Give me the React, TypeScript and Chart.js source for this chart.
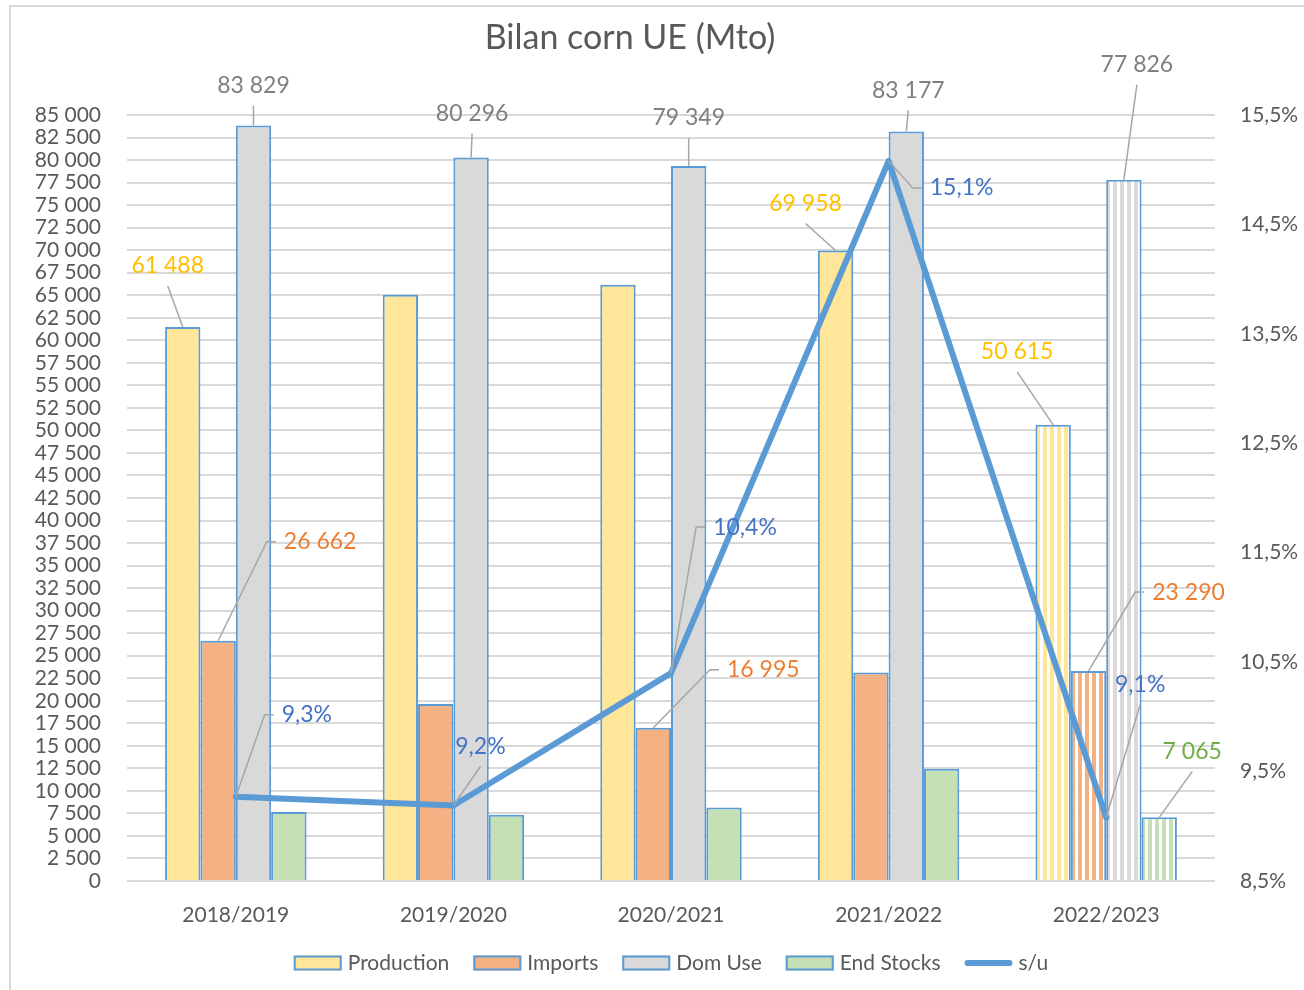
import React, { useEffect, useRef } from 'react';
import { Chart, registerables } from 'chart.js';

Chart.register(...registerables);

// ---------- data ----------
const TITLE = 'Bilan corn UE (Mto)';
const CATEGORIES = ['2018/2019', '2019/2020', '2020/2021', '2021/2022', '2022/2023'];
const PRODUCTION = [61488, 65050, 66150, 69958, 50615];
const IMPORTS = [26662, 19650, 16995, 23150, 23290];
const DOM_USE = [83829, 80296, 79349, 83177, 77826];
const END_STOCKS = [7650, 7350, 8150, 12450, 7065];
const STOCK_TO_USE = [9.27, 9.19, 10.4, 15.08, 9.08];
const FORECAST = [false, false, false, false, true];
const SERIES_NAMES = ['Production', 'Imports', 'Dom Use', 'End Stocks', 's/u'];
const LEFT_MIN = 0;
const LEFT_MAX = 85000;
const LEFT_STEP = 2500;
const RIGHT_TICKS = [8.5, 9.5, 10.5, 11.5, 12.5, 13.5, 14.5, 15.5];

// ---------- styles ----------
const FONT = 'Lato, "Open Sans", sans-serif';
const TEXT = '#595959';
const BAR_BORDER = '#5B9BD5';
const FILLS = ['#FFE699', '#F4B183', '#D9D9D9', '#C5E0B4'];
const LINE_COLOR = '#5B9BD5';
const LABEL_COLORS = ['#FFC000', '#ED7D31', '#7F7F7F', '#70AD47', '#4472C4'];

// label placement (offsets relative to each mark, in px) and leader style
const LABELS = [
  { ds: 0, i: 0, dx: -15, dy: -61, side: 'below' },
  { ds: 0, i: 3, dx: -30, dy: -47, side: 'below' },
  { ds: 0, i: 4, dx: -36, dy: -73, side: 'below' },
  { ds: 1, i: 0, dx: 102, dy: -99, side: 'left' },
  { ds: 1, i: 2, dx: 110, dy: -58, side: 'left' },
  { ds: 1, i: 4, dx: 100, dy: -79, side: 'left' },
  { ds: 2, i: 0, dx: 0, dy: -40, side: 'below' },
  { ds: 2, i: 1, dx: 1, dy: -44, side: 'below' },
  { ds: 2, i: 2, dx: 0, dy: -48, side: 'below' },
  { ds: 2, i: 3, dx: 2, dy: -41, side: 'below' },
  { ds: 2, i: 4, dx: 13, dy: -115, side: 'below' },
  { ds: 3, i: 4, dx: 33, dy: -66, side: 'below' },
  { ds: 4, i: 0, dx: 71, dy: -82, side: 'left' },
  { ds: 4, i: 1, dx: 27, dy: -59, side: 'below' },
  { ds: 4, i: 2, dx: 74, dy: -146, side: 'left' },
  { ds: 4, i: 3, dx: 73, dy: 27, side: 'left' },
  { ds: 4, i: 4, dx: 34, dy: -133, side: 'below' },
];

const fmtThousands = (v: number) =>
  String(Math.round(v)).replace(/\B(?=(\d{3})+(?!\d))/g, ' ');
const fmtPct = (v: number) => v.toFixed(1).replace('.', ',') + '%';

function makeStripe(ctx: CanvasRenderingContext2D, color: string) {
  const c = document.createElement('canvas');
  c.width = 7;
  c.height = 4;
  const g = c.getContext('2d')!;
  g.fillStyle = '#ffffff';
  g.fillRect(0, 0, 7, 4);
  g.fillStyle = color;
  g.fillRect(0, 0, 4, 4);
  return ctx.createPattern(c, 'repeat');
}

const overlayPlugin = {
  id: 'overlay',
  beforeDraw(chart: any) {
    const ctx = chart.ctx;
    ctx.save();
    ctx.fillStyle = '#ffffff';
    ctx.fillRect(0, 0, chart.width, chart.height);
    ctx.strokeStyle = '#D9D9D9';
    ctx.lineWidth = 2;
    ctx.strokeRect(10, 6, chart.width + 40, chart.height + 40);
    ctx.restore();
  },
  afterDraw(chart: any) {
    const ctx = chart.ctx;
    const area = chart.chartArea;
    ctx.save();

    // title
    ctx.fillStyle = TEXT;
    ctx.font = `34px ${FONT}`;
    ctx.textAlign = 'center';
    ctx.textBaseline = 'middle';
    ctx.fillText(TITLE, 630, 38);

    // data labels with leader lines
    ctx.font = `23px ${FONT}`;
    for (const L of LABELS) {
      const meta = chart.getDatasetMeta(L.ds);
      const el = meta.data[L.i];
      if (!el) continue;
      const ax = el.x;
      const ay = el.y;
      const cx = ax + L.dx;
      const cy = ay + L.dy;
      const value = chart.data.datasets[L.ds].data[L.i];
      const text = L.ds === 4 ? fmtPct(value) : fmtThousands(value);
      const w = ctx.measureText(text).width;
      ctx.strokeStyle = '#A6A6A6';
      ctx.lineWidth = 1.5;
      ctx.beginPath();
      ctx.moveTo(ax, ay);
      if (L.side === 'left') {
        const left = cx - w / 2;
        ctx.lineTo(left - 17, cy);
        ctx.lineTo(left - 8, cy);
      } else {
        ctx.lineTo(cx, cy + 20);
      }
      ctx.stroke();
      ctx.fillStyle = LABEL_COLORS[L.ds];
      ctx.textAlign = 'center';
      ctx.textBaseline = 'middle';
      ctx.fillText(text, cx, cy);
    }

    // legend
    ctx.font = `21px ${FONT}`;
    const boxW = 48;
    const boxH = 15;
    const gapText = 6;
    const gapItem = 24;
    const items = chart.data.datasets.map((d: any, k: number) => ({
      label: d.label,
      w: boxW + gapText + ctx.measureText(d.label).width,
      k,
    }));
    const total = items.reduce((s: number, it: any) => s + it.w, 0) + gapItem * (items.length - 1);
    let x = (area.left + area.right) / 2 - total / 2;
    const y = 963;
    for (const it of items) {
      if (it.k < 4) {
        ctx.fillStyle = FILLS[it.k];
        ctx.fillRect(x, y - boxH / 2, boxW, boxH);
        ctx.strokeStyle = BAR_BORDER;
        ctx.lineWidth = 2;
        ctx.strokeRect(x + 1, y - boxH / 2 + 1, boxW - 2, boxH - 2);
      } else {
        ctx.strokeStyle = LINE_COLOR;
        ctx.lineWidth = 6;
        ctx.lineCap = 'round';
        ctx.beginPath();
        ctx.moveTo(x + 3, y);
        ctx.lineTo(x + boxW - 3, y);
        ctx.stroke();
      }
      ctx.fillStyle = TEXT;
      ctx.textAlign = 'left';
      ctx.textBaseline = 'middle';
      ctx.fillText(it.label, x + boxW + gapText, y);
      x += it.w + gapItem;
    }
    ctx.restore();
  },
};

export default function App() {
  const ref = useRef<HTMLCanvasElement | null>(null);

  useEffect(() => {
    const canvas = ref.current!;
    const ctx = canvas.getContext('2d')!;
    const patterns = FILLS.map((c) => makeStripe(ctx, c));
    const barFill = (k: number) => (c: any) =>
      FORECAST[c.dataIndex] ? patterns[k] : FILLS[k];

    const barDs = (label: string, data: number[], k: number) => ({
      type: 'bar' as const,
      label,
      data,
      yAxisID: 'y',
      backgroundColor: barFill(k),
      borderColor: BAR_BORDER,
      borderWidth: 2,
      categoryPercentage: 0.65,
      barPercentage: 1,
      order: 2,
    });

    const chart = new Chart(canvas, {
      type: 'bar',
      data: {
        labels: CATEGORIES,
        datasets: [
          barDs(SERIES_NAMES[0], PRODUCTION, 0),
          barDs(SERIES_NAMES[1], IMPORTS, 1),
          barDs(SERIES_NAMES[2], DOM_USE, 2),
          barDs(SERIES_NAMES[3], END_STOCKS, 3),
          {
            type: 'line' as const,
            label: SERIES_NAMES[4],
            data: STOCK_TO_USE,
            yAxisID: 'y1',
            borderColor: LINE_COLOR,
            backgroundColor: LINE_COLOR,
            borderWidth: 6,
            pointRadius: 0,
            tension: 0,
            borderJoinStyle: 'round',
            borderCapStyle: 'round',
            order: 0,
          } as any,
        ],
      },
      options: {
        responsive: false,
        animation: false,
        devicePixelRatio: 1,
        layout: { padding: { top: 115, bottom: 49, left: 0, right: 0 } },
        plugins: {
          legend: { display: false },
          title: { display: false },
          tooltip: { enabled: false },
        },
        scales: {
          x: {
            grid: { display: false, drawTicks: false },
            border: { display: false },
            ticks: {
              color: TEXT,
              font: { family: FONT, size: 21 },
              padding: 22,
              maxRotation: 0,
            },
            afterFit: (s: any) => {
              s.height = 60;
            },
          },
          y: {
            position: 'left',
            min: LEFT_MIN,
            max: LEFT_MAX,
            grid: { color: '#D9D9D9', lineWidth: 2, drawTicks: false },
            border: { display: false },
            ticks: {
              stepSize: LEFT_STEP,
              color: TEXT,
              font: { family: FONT, size: 21 },
              padding: 26,
              autoSkip: false,
              callback: (v: any) => fmtThousands(Number(v)),
            },
            afterFit: (s: any) => {
              s.width = 127;
            },
          },
          y1: {
            position: 'right',
            min: RIGHT_TICKS[0],
            max: RIGHT_TICKS[RIGHT_TICKS.length - 1],
            grid: { display: false, drawTicks: false },
            border: { display: false },
            afterBuildTicks: (s: any) => {
              s.ticks = RIGHT_TICKS.map((v) => ({ value: v }));
            },
            ticks: {
              color: TEXT,
              font: { family: FONT, size: 21 },
              padding: 25,
              autoSkip: false,
              callback: (v: any) => fmtPct(Number(v)),
            },
            afterFit: (s: any) => {
              s.width = 89;
            },
          },
        },
      },
      plugins: [overlayPlugin],
    } as any);

    return () => chart.destroy();
  }, []);

  return (
    <div style={{ position: 'absolute', left: 0, top: 0, width: 1304, height: 990, background: '#fff' }}>
      <canvas ref={ref} width={1304} height={990} style={{ display: 'block', width: 1304, height: 990 }} />
    </div>
  );
}
